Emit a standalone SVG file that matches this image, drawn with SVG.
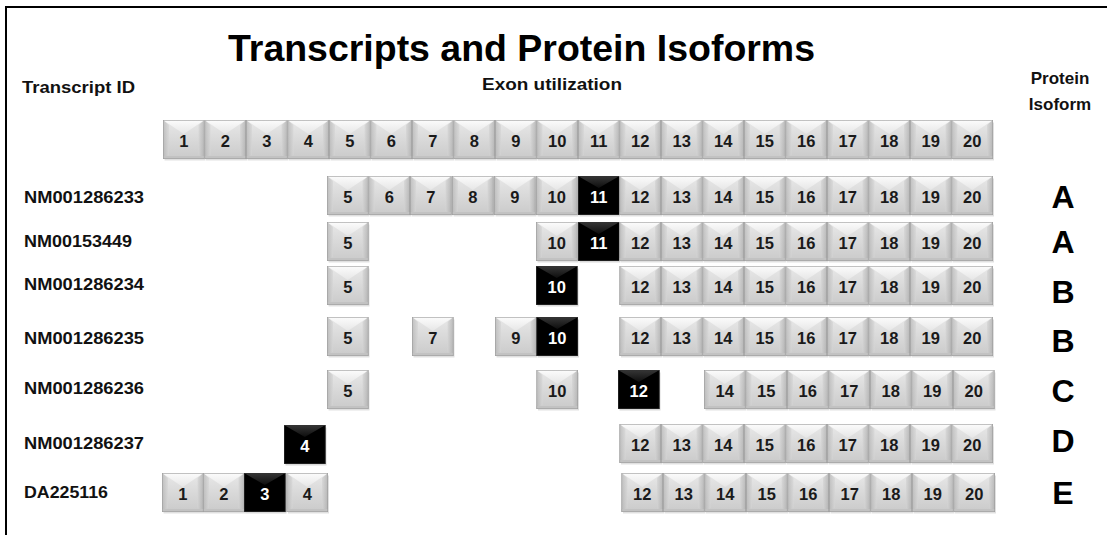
<svg xmlns="http://www.w3.org/2000/svg" xmlns:xlink="http://www.w3.org/1999/xlink" width="1107" height="535" viewBox="0 0 1107 535">
<defs>
<linearGradient id="gBody" x1="0" y1="0" x2="0" y2="1"><stop offset="0" stop-color="#e8e8e8"/><stop offset="1" stop-color="#cacaca"/></linearGradient>
<linearGradient id="gTop" x1="0" y1="0" x2="0" y2="1"><stop offset="0" stop-color="#fcfcfc"/><stop offset="1" stop-color="#e6e6e6"/></linearGradient>
<linearGradient id="gSideL" x1="0" y1="0" x2="1" y2="0"><stop offset="0" stop-color="#b0b0b0"/><stop offset="1" stop-color="#d6d6d6"/></linearGradient>
<linearGradient id="gSideR" x1="1" y1="0" x2="0" y2="0"><stop offset="0" stop-color="#a8a8a8"/><stop offset="1" stop-color="#d4d4d4"/></linearGradient>
<linearGradient id="gDarkTop" x1="0" y1="0" x2="0" y2="1"><stop offset="0" stop-color="#444"/><stop offset="1" stop-color="#111"/></linearGradient>
<g id="b">
<rect x="1.5" y="2.5" width="41" height="38" fill="#000" opacity=".12"/>
<rect width="41.5" height="39" fill="url(#gBody)"/>
<polygon points="0,0 41.5,0 20.75,14" fill="url(#gTop)"/>
<polygon points="0,0 6,5 6,35 0,39" fill="url(#gSideL)" opacity=".7"/>
<polygon points="41.5,0 35.5,5 35.5,35 41.5,39" fill="url(#gSideR)" opacity=".7"/>
<rect y="36" width="41.5" height="3" fill="#c2c2c2"/>
<rect x=".3" y=".3" width="40.9" height="38.4" fill="none" stroke="#9c9c9c" stroke-width=".6"/>
</g>
<g id="d">
<rect x="1.5" y="2.5" width="41" height="38" fill="#000" opacity=".15"/>
<rect width="41.5" height="39" fill="#000"/>
<polygon points="0,0 41.5,0 20.75,12" fill="url(#gDarkTop)" opacity=".8"/>
<rect x=".3" y=".3" width="40.9" height="38.4" fill="none" stroke="#333" stroke-width=".6"/>
</g>
</defs>
<style>
.n{font-family:"Liberation Sans",Arial,sans-serif;font-weight:bold;font-size:16.5px;fill:#1a1a1a;text-anchor:middle}
.w{fill:#fff}
.lab{font-family:"Liberation Sans",Arial,sans-serif;font-weight:bold;font-size:17px;fill:#111}
.hd{font-family:"Liberation Sans",Arial,sans-serif;font-weight:bold;font-size:17px;fill:#111}
.iso{font-family:"Liberation Sans",Arial,sans-serif;font-weight:bold;font-size:32px;fill:#000;text-anchor:middle}
</style>
<rect width="1107" height="535" fill="#fff"/>
<g id="frame" fill="none" stroke="#000" stroke-width="2">
<path d="M6,535 V7 H1107"/>
</g>
<g id="titles">
<text x="521.5" y="61" font-family="'Liberation Sans',Arial,sans-serif" font-weight="bold" font-size="37" text-anchor="middle" textLength="587" lengthAdjust="spacingAndGlyphs">Transcripts and Protein Isoforms</text>
<text class="hd" x="22" y="93" textLength="113" lengthAdjust="spacingAndGlyphs">Transcript ID</text>
<text class="hd" x="482" y="90" textLength="140" lengthAdjust="spacingAndGlyphs">Exon utilization</text>
<text class="hd" x="1060" y="84" text-anchor="middle">Protein</text>
<text class="hd" x="1060" y="110" text-anchor="middle">Isoform</text>
</g>
<g id="connectors"></g>
<g id="header">
<g id="h1" transform="translate(163,120)"><use href="#b"/><text class="n" x="20.75" y="27">1</text></g>
<g id="h2" transform="translate(204.5,120)"><use href="#b"/><text class="n" x="20.75" y="27">2</text></g>
<g id="h3" transform="translate(246,120)"><use href="#b"/><text class="n" x="20.75" y="27">3</text></g>
<g id="h4" transform="translate(287.5,120)"><use href="#b"/><text class="n" x="20.75" y="27">4</text></g>
<g id="h5" transform="translate(329,120)"><use href="#b"/><text class="n" x="20.75" y="27">5</text></g>
<g id="h6" transform="translate(370.5,120)"><use href="#b"/><text class="n" x="20.75" y="27">6</text></g>
<g id="h7" transform="translate(412,120)"><use href="#b"/><text class="n" x="20.75" y="27">7</text></g>
<g id="h8" transform="translate(453.5,120)"><use href="#b"/><text class="n" x="20.75" y="27">8</text></g>
<g id="h9" transform="translate(495,120)"><use href="#b"/><text class="n" x="20.75" y="27">9</text></g>
<g id="h10" transform="translate(536.5,120)"><use href="#b"/><text class="n" x="20.75" y="27">10</text></g>
<g id="h11" transform="translate(578,120)"><use href="#b"/><text class="n" x="20.75" y="27">11</text></g>
<g id="h12" transform="translate(619.5,120)"><use href="#b"/><text class="n" x="20.75" y="27">12</text></g>
<g id="h13" transform="translate(661,120)"><use href="#b"/><text class="n" x="20.75" y="27">13</text></g>
<g id="h14" transform="translate(702.5,120)"><use href="#b"/><text class="n" x="20.75" y="27">14</text></g>
<g id="h15" transform="translate(744,120)"><use href="#b"/><text class="n" x="20.75" y="27">15</text></g>
<g id="h16" transform="translate(785.5,120)"><use href="#b"/><text class="n" x="20.75" y="27">16</text></g>
<g id="h17" transform="translate(827,120)"><use href="#b"/><text class="n" x="20.75" y="27">17</text></g>
<g id="h18" transform="translate(868.5,120)"><use href="#b"/><text class="n" x="20.75" y="27">18</text></g>
<g id="h19" transform="translate(910,120)"><use href="#b"/><text class="n" x="20.75" y="27">19</text></g>
<g id="h20" transform="translate(951.5,120)"><use href="#b"/><text class="n" x="20.75" y="27">20</text></g>
</g>
<g id="row1">
<text class="lab" x="24" y="203" textLength="120" lengthAdjust="spacingAndGlyphs">NM001286233</text>
<g id="r1e5" transform="translate(327,176)"><use href="#b"/><text class="n" x="20.75" y="27">5</text></g>
<g id="r1e6" transform="translate(368.5,176)"><use href="#b"/><text class="n" x="20.75" y="27">6</text></g>
<g id="r1e7" transform="translate(410,176)"><use href="#b"/><text class="n" x="20.75" y="27">7</text></g>
<g id="r1e8" transform="translate(452,176)"><use href="#b"/><text class="n" x="20.75" y="27">8</text></g>
<g id="r1e9" transform="translate(494,176)"><use href="#b"/><text class="n" x="20.75" y="27">9</text></g>
<g id="r1e10" transform="translate(536,176)"><use href="#b"/><text class="n" x="20.75" y="27">10</text></g>
<g id="r1e11" transform="translate(578,176)"><use href="#d"/><text class="n w" x="20.75" y="27">11</text></g>
<g id="r1e12" transform="translate(619.5,176)"><use href="#b"/><text class="n" x="20.75" y="27">12</text></g>
<g id="r1e13" transform="translate(661,176)"><use href="#b"/><text class="n" x="20.75" y="27">13</text></g>
<g id="r1e14" transform="translate(702.5,176)"><use href="#b"/><text class="n" x="20.75" y="27">14</text></g>
<g id="r1e15" transform="translate(744,176)"><use href="#b"/><text class="n" x="20.75" y="27">15</text></g>
<g id="r1e16" transform="translate(785.5,176)"><use href="#b"/><text class="n" x="20.75" y="27">16</text></g>
<g id="r1e17" transform="translate(827,176)"><use href="#b"/><text class="n" x="20.75" y="27">17</text></g>
<g id="r1e18" transform="translate(868.5,176)"><use href="#b"/><text class="n" x="20.75" y="27">18</text></g>
<g id="r1e19" transform="translate(910,176)"><use href="#b"/><text class="n" x="20.75" y="27">19</text></g>
<g id="r1e20" transform="translate(951.5,176)"><use href="#b"/><text class="n" x="20.75" y="27">20</text></g>
<text class="iso" x="1063" y="208">A</text>
</g>
<g id="row2">
<text class="lab" x="24" y="247" textLength="108" lengthAdjust="spacingAndGlyphs">NM00153449</text>
<g id="r2e5" transform="translate(327,222)"><use href="#b"/><text class="n" x="20.75" y="27">5</text></g>
<g id="r2e10" transform="translate(536,222)"><use href="#b"/><text class="n" x="20.75" y="27">10</text></g>
<g id="r2e11" transform="translate(578,222)"><use href="#d"/><text class="n w" x="20.75" y="27">11</text></g>
<g id="r2e12" transform="translate(619.5,222)"><use href="#b"/><text class="n" x="20.75" y="27">12</text></g>
<g id="r2e13" transform="translate(661,222)"><use href="#b"/><text class="n" x="20.75" y="27">13</text></g>
<g id="r2e14" transform="translate(702.5,222)"><use href="#b"/><text class="n" x="20.75" y="27">14</text></g>
<g id="r2e15" transform="translate(744,222)"><use href="#b"/><text class="n" x="20.75" y="27">15</text></g>
<g id="r2e16" transform="translate(785.5,222)"><use href="#b"/><text class="n" x="20.75" y="27">16</text></g>
<g id="r2e17" transform="translate(827,222)"><use href="#b"/><text class="n" x="20.75" y="27">17</text></g>
<g id="r2e18" transform="translate(868.5,222)"><use href="#b"/><text class="n" x="20.75" y="27">18</text></g>
<g id="r2e19" transform="translate(910,222)"><use href="#b"/><text class="n" x="20.75" y="27">19</text></g>
<g id="r2e20" transform="translate(951.5,222)"><use href="#b"/><text class="n" x="20.75" y="27">20</text></g>
<text class="iso" x="1063" y="253">A</text>
</g>
<g id="row3">
<text class="lab" x="24" y="290" textLength="120" lengthAdjust="spacingAndGlyphs">NM001286234</text>
<g id="r3e5" transform="translate(327,266)"><use href="#b"/><text class="n" x="20.75" y="27">5</text></g>
<g id="r3e10" transform="translate(536,266)"><use href="#d"/><text class="n w" x="20.75" y="27">10</text></g>
<g id="r3e12" transform="translate(619.5,266)"><use href="#b"/><text class="n" x="20.75" y="27">12</text></g>
<g id="r3e13" transform="translate(661,266)"><use href="#b"/><text class="n" x="20.75" y="27">13</text></g>
<g id="r3e14" transform="translate(702.5,266)"><use href="#b"/><text class="n" x="20.75" y="27">14</text></g>
<g id="r3e15" transform="translate(744,266)"><use href="#b"/><text class="n" x="20.75" y="27">15</text></g>
<g id="r3e16" transform="translate(785.5,266)"><use href="#b"/><text class="n" x="20.75" y="27">16</text></g>
<g id="r3e17" transform="translate(827,266)"><use href="#b"/><text class="n" x="20.75" y="27">17</text></g>
<g id="r3e18" transform="translate(868.5,266)"><use href="#b"/><text class="n" x="20.75" y="27">18</text></g>
<g id="r3e19" transform="translate(910,266)"><use href="#b"/><text class="n" x="20.75" y="27">19</text></g>
<g id="r3e20" transform="translate(951.5,266)"><use href="#b"/><text class="n" x="20.75" y="27">20</text></g>
<text class="iso" x="1063" y="303">B</text>
</g>
<g id="row4">
<text class="lab" x="24" y="344" textLength="120" lengthAdjust="spacingAndGlyphs">NM001286235</text>
<g id="r4e5" transform="translate(327,317)"><use href="#b"/><text class="n" x="20.75" y="27">5</text></g>
<g id="r4e7" transform="translate(412,317)"><use href="#b"/><text class="n" x="20.75" y="27">7</text></g>
<g id="r4e9" transform="translate(495,317)"><use href="#b"/><text class="n" x="20.75" y="27">9</text></g>
<g id="r4e10" transform="translate(536.5,317)"><use href="#d"/><text class="n w" x="20.75" y="27">10</text></g>
<g id="r4e12" transform="translate(619.5,317)"><use href="#b"/><text class="n" x="20.75" y="27">12</text></g>
<g id="r4e13" transform="translate(661,317)"><use href="#b"/><text class="n" x="20.75" y="27">13</text></g>
<g id="r4e14" transform="translate(702.5,317)"><use href="#b"/><text class="n" x="20.75" y="27">14</text></g>
<g id="r4e15" transform="translate(744,317)"><use href="#b"/><text class="n" x="20.75" y="27">15</text></g>
<g id="r4e16" transform="translate(785.5,317)"><use href="#b"/><text class="n" x="20.75" y="27">16</text></g>
<g id="r4e17" transform="translate(827,317)"><use href="#b"/><text class="n" x="20.75" y="27">17</text></g>
<g id="r4e18" transform="translate(868.5,317)"><use href="#b"/><text class="n" x="20.75" y="27">18</text></g>
<g id="r4e19" transform="translate(910,317)"><use href="#b"/><text class="n" x="20.75" y="27">19</text></g>
<g id="r4e20" transform="translate(951.5,317)"><use href="#b"/><text class="n" x="20.75" y="27">20</text></g>
<text class="iso" x="1063" y="352">B</text>
</g>
<g id="row5">
<text class="lab" x="24" y="394" textLength="120" lengthAdjust="spacingAndGlyphs">NM001286236</text>
<g id="r5e5" transform="translate(327,370)"><use href="#b"/><text class="n" x="20.75" y="27">5</text></g>
<g id="r5e10" transform="translate(536.5,370)"><use href="#b"/><text class="n" x="20.75" y="27">10</text></g>
<g id="r5e12" transform="translate(618,370)"><use href="#d"/><text class="n w" x="20.75" y="27">12</text></g>
<g id="r5e14" transform="translate(704,370)"><use href="#b"/><text class="n" x="20.75" y="27">14</text></g>
<g id="r5e15" transform="translate(745.5,370)"><use href="#b"/><text class="n" x="20.75" y="27">15</text></g>
<g id="r5e16" transform="translate(787,370)"><use href="#b"/><text class="n" x="20.75" y="27">16</text></g>
<g id="r5e17" transform="translate(828.5,370)"><use href="#b"/><text class="n" x="20.75" y="27">17</text></g>
<g id="r5e18" transform="translate(870,370)"><use href="#b"/><text class="n" x="20.75" y="27">18</text></g>
<g id="r5e19" transform="translate(911.5,370)"><use href="#b"/><text class="n" x="20.75" y="27">19</text></g>
<g id="r5e20" transform="translate(953,370)"><use href="#b"/><text class="n" x="20.75" y="27">20</text></g>
<text class="iso" x="1063" y="402">C</text>
</g>
<g id="row6">
<text class="lab" x="24" y="449" textLength="120" lengthAdjust="spacingAndGlyphs">NM001286237</text>
<g id="r6e4" transform="translate(284,425)"><use href="#d"/><text class="n w" x="20.75" y="27">4</text></g>
<g id="r6e12" transform="translate(619.5,424)"><use href="#b"/><text class="n" x="20.75" y="27">12</text></g>
<g id="r6e13" transform="translate(661,424)"><use href="#b"/><text class="n" x="20.75" y="27">13</text></g>
<g id="r6e14" transform="translate(702.5,424)"><use href="#b"/><text class="n" x="20.75" y="27">14</text></g>
<g id="r6e15" transform="translate(744,424)"><use href="#b"/><text class="n" x="20.75" y="27">15</text></g>
<g id="r6e16" transform="translate(785.5,424)"><use href="#b"/><text class="n" x="20.75" y="27">16</text></g>
<g id="r6e17" transform="translate(827,424)"><use href="#b"/><text class="n" x="20.75" y="27">17</text></g>
<g id="r6e18" transform="translate(868.5,424)"><use href="#b"/><text class="n" x="20.75" y="27">18</text></g>
<g id="r6e19" transform="translate(910,424)"><use href="#b"/><text class="n" x="20.75" y="27">19</text></g>
<g id="r6e20" transform="translate(951.5,424)"><use href="#b"/><text class="n" x="20.75" y="27">20</text></g>
<text class="iso" x="1063" y="452">D</text>
</g>
<g id="row7">
<text class="lab" x="24" y="498" textLength="84" lengthAdjust="spacingAndGlyphs">DA225116</text>
<g id="r7e1" transform="translate(162,473)"><use href="#b"/><text class="n" x="20.75" y="27">1</text></g>
<g id="r7e2" transform="translate(203,473)"><use href="#b"/><text class="n" x="20.75" y="27">2</text></g>
<g id="r7e3" transform="translate(244,473)"><use href="#d"/><text class="n w" x="20.75" y="27">3</text></g>
<g id="r7e4" transform="translate(286.5,473)"><use href="#b"/><text class="n" x="20.75" y="27">4</text></g>
<g id="r7e12" transform="translate(621.5,473)"><use href="#b"/><text class="n" x="20.75" y="27">12</text></g>
<g id="r7e13" transform="translate(663,473)"><use href="#b"/><text class="n" x="20.75" y="27">13</text></g>
<g id="r7e14" transform="translate(704.5,473)"><use href="#b"/><text class="n" x="20.75" y="27">14</text></g>
<g id="r7e15" transform="translate(746,473)"><use href="#b"/><text class="n" x="20.75" y="27">15</text></g>
<g id="r7e16" transform="translate(787.5,473)"><use href="#b"/><text class="n" x="20.75" y="27">16</text></g>
<g id="r7e17" transform="translate(829,473)"><use href="#b"/><text class="n" x="20.75" y="27">17</text></g>
<g id="r7e18" transform="translate(870.5,473)"><use href="#b"/><text class="n" x="20.75" y="27">18</text></g>
<g id="r7e19" transform="translate(912,473)"><use href="#b"/><text class="n" x="20.75" y="27">19</text></g>
<g id="r7e20" transform="translate(953.5,473)"><use href="#b"/><text class="n" x="20.75" y="27">20</text></g>
<text class="iso" x="1063" y="504">E</text>
</g>
</svg>
